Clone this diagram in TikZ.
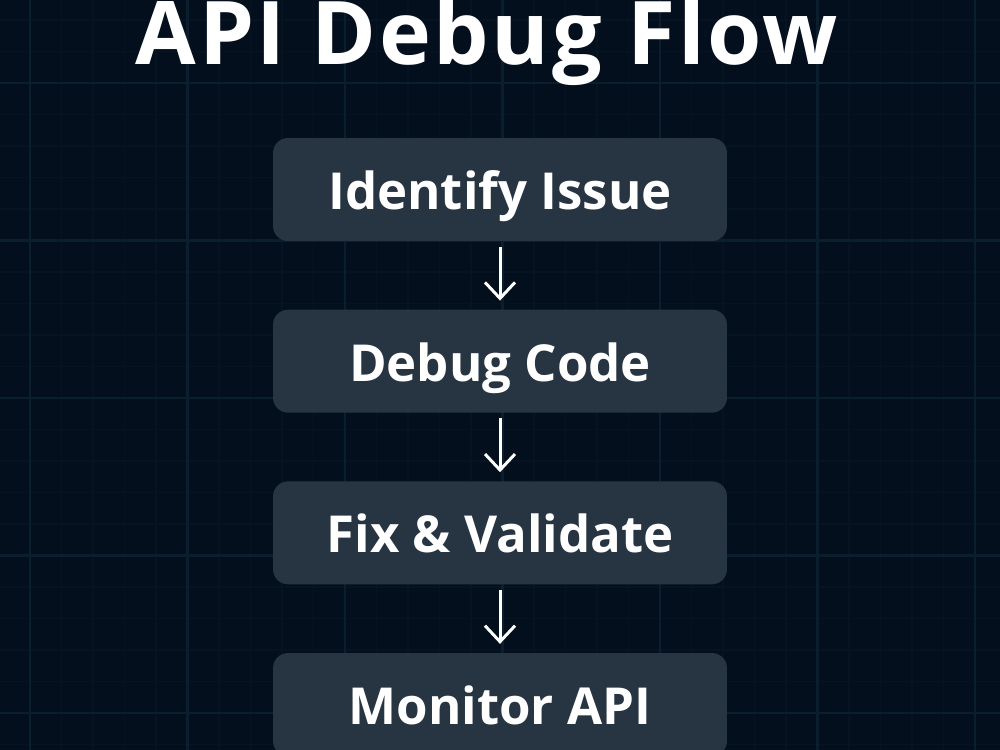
\documentclass[tikz,border=0pt]{standalone}
\usepackage{fontspec}
\setmainfont{Open Sans}
\usetikzlibrary{positioning,arrows.meta}
\definecolor{NightNavy}{RGB}{3,15,29}
\definecolor{GridMinor}{RGB}{6,20,34}
\definecolor{GridMajor}{RGB}{11,30,46}
\definecolor{SlateBox}{RGB}{39,52,66}
\tikzset{
  stepbox/.style={fill=SlateBox,rounded corners=0.3cm,minimum width=9.08cm,
    minimum height=2.06cm,text height=0.8cm,text depth=0pt,align=center,
    text=white,font=\fontsize{29}{36}\selectfont\bfseries},
  flow/.style={-{Straight Barb[length=3.2mm,width=6mm,line width=1.7pt]},
    line width=1.7pt,draw=white,shorten <=3pt,shorten >=5pt},
  title/.style={text=white,anchor=base,
    font=\fontsize{50}{58}\selectfont\bfseries\addfontfeature{LetterSpace=3}}
}
\begin{document}
\begin{tikzpicture}[x=0.02cm,y=-0.02cm,node distance=1.36cm]
  \useasboundingbox (0,0) rectangle (1000,750);
  \fill[NightNavy] (0,0) rectangle (1000,750);
  % grid
  \foreach \k in {-2,...,32}{
    \draw[GridMinor,line width=0.6pt] (30+31.5*\k,0) -- (30+31.5*\k,750);
    \draw[GridMinor,line width=0.6pt] (0,83+31.5*\k) -- (1000,83+31.5*\k);
  }
  \foreach \k in {0,...,6}{
    \draw[GridMajor,line width=1.2pt] (30+157.5*\k,0) -- (30+157.5*\k,750);
    \draw[GridMajor,line width=1.2pt] (0,83+157.5*\k) -- (1000,83+157.5*\k);
  }
  \node[title] (head) at (487,65) {API Debug Flow};
  \node[stepbox] (identify) at (500,189.5) {Identify Issue};
  \node[stepbox,below=of identify] (debug) {Debug Code};
  \node[stepbox,below=of debug] (fix) {Fix \& Validate};
  \node[stepbox,below=of fix] (monitor) {Monitor API};
  \draw[flow] (identify) -- (debug);
  \draw[flow] (debug) -- (fix);
  \draw[flow] (fix) -- (monitor);
\end{tikzpicture}
\end{document}
